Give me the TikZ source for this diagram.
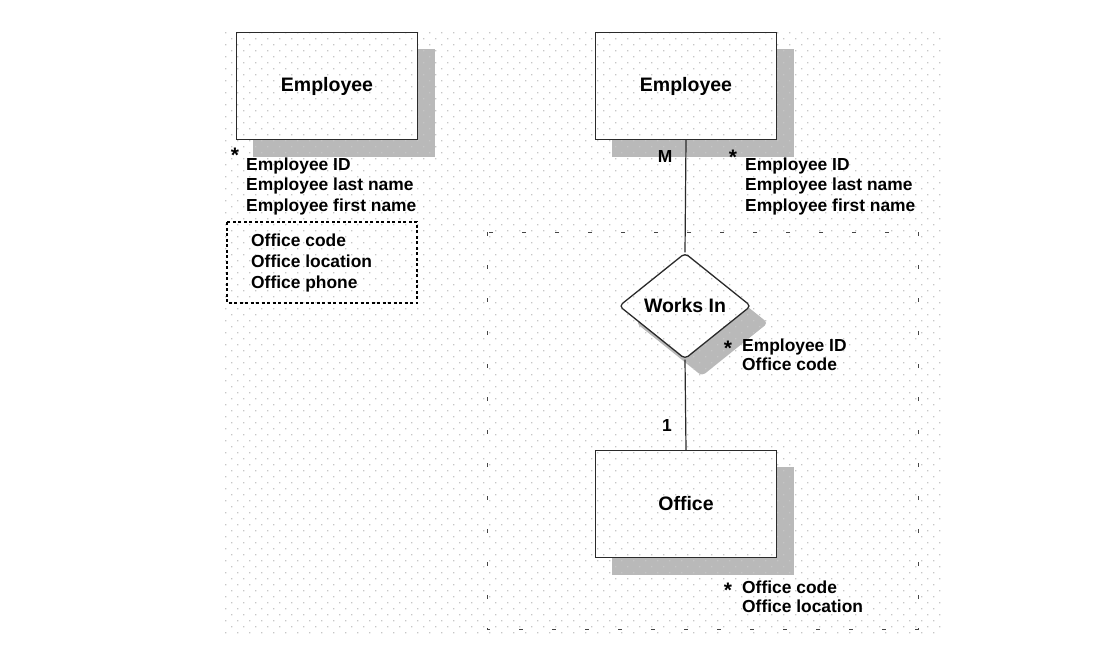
\documentclass[tikz,border=0pt]{standalone}
\usepackage{fontspec}
\setmainfont{Liberation Sans}
\usetikzlibrary{shapes.geometric}
\pgfdeclarelayer{bg}
\pgfdeclarelayer{grid}
\pgfsetlayers{bg,grid,main}
\definecolor{shadowc}{HTML}{B9B9B9}
\definecolor{gridc}{HTML}{C6C6C6}
\definecolor{linec}{HTML}{2A2A2A}
\definecolor{framec}{HTML}{454545}
\tikzset{
  ent/.style={draw=linec, line width=1.4pt, minimum width=181pt, minimum height=107pt,
    inner sep=0pt, font=\bfseries\fontsize{19.5}{22}\selectfont},
  rel/.style={diamond, minimum width=132pt, minimum height=106pt, inner sep=0pt,
    rounded corners=4pt},
  relline/.style={draw=linec, line width=1.3pt, font=\bfseries\fontsize{19.5}{22}\selectfont},
  attr/.style={anchor=north west, inner sep=0pt, align=left,
    font=\bfseries\fontsize{17.4}{20.5}\selectfont},
  attrtight/.style={attr, font=\bfseries\fontsize{17.4}{19.2}\selectfont},
  attroff/.style={attr, font=\bfseries\fontsize{17.4}{21}\selectfont},
  star/.style={anchor=base, inner sep=0pt, font=\bfseries\fontsize{21}{24}\selectfont},
  card/.style={inner sep=0pt, font=\bfseries\fontsize{17.4}{20}\selectfont},
  conn/.style={draw=linec, line width=1.2pt},
  shadowbox/.style={fill=shadowc},
  groupbox/.style={draw=black, line width=1.6pt, dash pattern=on 3pt off 2.5pt},
  viewframe/.style={draw=framec, line width=1pt, dash pattern=on 4pt off 29pt}
}
\begin{document}
\begin{tikzpicture}[x=1pt, y=-1pt]
\useasboundingbox (0,0) rectangle (1111,667);

% entities and relationship
\node[ent] (e1) at (327,86) {Employee};
\node[ent] (e2) at (686,86) {Employee};
\node[relline, rel] (w) at (685,306) {Works In};
\node[ent] (off) at (686,504) {Office};

% shadows and white backgrounds
\begin{pgfonlayer}{bg}
  \fill[shadowbox] ([shift={(17,17)}]e1.north west) rectangle ([shift={(17,17)}]e1.south east);
  \fill[white] (e1.north west) rectangle (e1.south east);
  \fill[shadowbox] ([shift={(17,17)}]e2.north west) rectangle ([shift={(17,17)}]e2.south east);
  \fill[white] (e2.north west) rectangle (e2.south east);
  \fill[shadowbox] ([shift={(17,17)}]off.north west) rectangle ([shift={(17,17)}]off.south east);
  \fill[white] (off.north west) rectangle (off.south east);
  \node[rel, fill=shadowc] (wsh) at ([shift={(17,17)}]w.center) {};
  \node[rel, fill=white] (wbg) at (w.center) {};
\end{pgfonlayer}

% dotted grid
\begin{pgfonlayer}{grid}
  \foreach \i in {0,...,100} {
    \pgfmathtruncatemacro{\xo}{225+6*mod(\i,2)}
    \pgfmathtruncatemacro{\yy}{32+6*\i}
    \fill[gridc] \foreach \j in {0,...,59} { ({\xo+12*\j}, \yy) rectangle ++(1.3,1.3) };
  }
\end{pgfonlayer}

% view frame
\draw[viewframe] (487,232) rectangle (918,629);

% connectors
\draw[conn] (e2.south) -- (w.north);
\draw[conn] (w.south) -- (off.north);

% cardinalities
\node[card] (m) at (665,157) {M};
\node[card] (one) at (667,426) {1};

% left entity attributes
\node[star] (s1) at (235,162.5) {*};
\node[attr] (a1) at (246,157.5) {Employee ID\\Employee last name\\Employee first name};
\node[attroff] (a2) at (251,233.5) {Office code\\Office location\\Office phone};
\draw[groupbox] (227,222) rectangle (417,303);

% right entity attributes
\node[star] (s2) at (733,164.5) {*};
\node[attr] (a3) at (745,157.5) {Employee ID\\Employee last name\\Employee first name};

% relationship attributes
\node[star] (s3) at (728,355) {*};
\node[attrtight] (a4) at (742,338.5) {Employee ID\\Office code};

% office attributes
\node[star] (s4) at (728,597) {*};
\node[attrtight] (a5) at (742,580.5) {Office code\\Office location};
\end{tikzpicture}
\end{document}
